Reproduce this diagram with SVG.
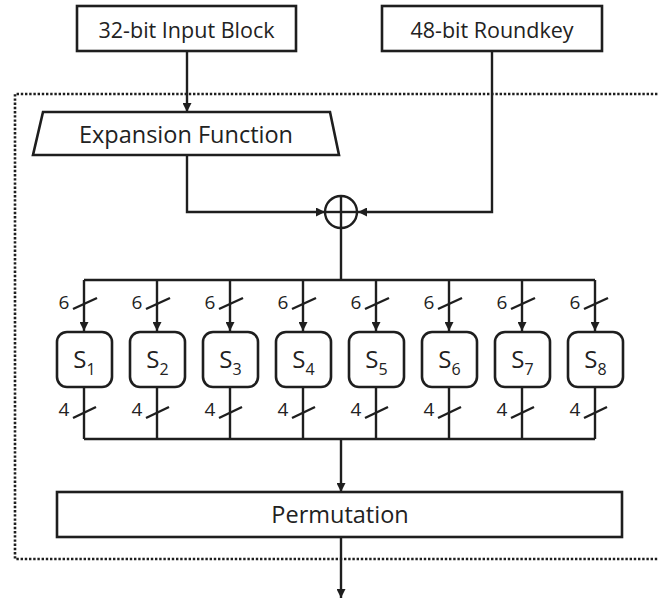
<svg xmlns="http://www.w3.org/2000/svg" width="659" height="601" viewBox="0 0 659 601">
  <style>
    .box { fill: #fff; stroke: #1e1e1e; stroke-width: 2.6; }
    .wire { fill: none; stroke: #1e1e1e; stroke-width: 2.4; }
    .arrow { fill: none; stroke: #1e1e1e; stroke-width: 2.4; marker-end: url(#head); }
    .frame { fill: none; stroke: #1e1e1e; stroke-width: 2.6; stroke-dasharray: 2.4 1.8; }
    .lbl { font-family: "Open Sans", "Noto Sans", sans-serif; fill: #222; text-anchor: middle; }
    .big { font-size: 21.5px; }
    .wide { font-size: 23.5px; }
    .bits { font-family: "Open Sans", "Noto Sans", sans-serif; font-size: 19px; fill: #222; text-anchor: middle; }
    .sbox { font-family: "Open Sans", "Noto Sans", sans-serif; font-size: 24px; fill: #222; text-anchor: middle; }
    .sub { font-size: 16px; }
  </style>
  <defs>
    <marker id="head" viewBox="0 0 10 10" refX="10" refY="5" markerWidth="9" markerHeight="9" markerUnits="userSpaceOnUse" orient="auto">
      <path d="M0,0 L10,5 L0,10 z" fill="#1e1e1e"/>
    </marker>
  </defs>

  <!-- round function boundary -->
  <path class="frame" d="M670,94 H15 V559 H670"/>

  <g id="connectors">
    <!-- input into expansion -->
    <line class="arrow" x1="187" y1="51" x2="187" y2="112"/>
    <!-- expansion output to XOR -->
    <polyline class="arrow" points="187,155 187,212 325,212"/>
    <!-- round key to XOR -->
    <polyline class="arrow" points="492,51 492,212 358,212"/>
    <!-- XOR output to bus -->
    <line class="wire" x1="341" y1="228" x2="341" y2="280"/>
    <line class="wire" x1="84" y1="280" x2="595" y2="280"/>
    <!-- bus into S-boxes -->
    <line class="arrow" x1="84" y1="280" x2="84" y2="331"/>
    <line class="arrow" x1="157" y1="280" x2="157" y2="331"/>
    <line class="arrow" x1="230" y1="280" x2="230" y2="331"/>
    <line class="arrow" x1="303" y1="280" x2="303" y2="331"/>
    <line class="arrow" x1="376" y1="280" x2="376" y2="331"/>
    <line class="arrow" x1="449" y1="280" x2="449" y2="331"/>
    <line class="arrow" x1="522" y1="280" x2="522" y2="331"/>
    <line class="arrow" x1="595" y1="280" x2="595" y2="331"/>
    <!-- S-box outputs -->
    <line class="wire" x1="84" y1="387" x2="84" y2="439"/>
    <line class="wire" x1="157" y1="387" x2="157" y2="439"/>
    <line class="wire" x1="230" y1="387" x2="230" y2="439"/>
    <line class="wire" x1="303" y1="387" x2="303" y2="439"/>
    <line class="wire" x1="376" y1="387" x2="376" y2="439"/>
    <line class="wire" x1="449" y1="387" x2="449" y2="439"/>
    <line class="wire" x1="522" y1="387" x2="522" y2="439"/>
    <line class="wire" x1="595" y1="387" x2="595" y2="439"/>
    <line class="wire" x1="84" y1="439" x2="595" y2="439"/>
    <!-- into permutation and out -->
    <line class="arrow" x1="341" y1="439" x2="341" y2="492"/>
    <line class="arrow" x1="341" y1="537" x2="341" y2="598"/>

    <!-- bus width marks -->
    <g class="wire">
      <line x1="73" y1="309" x2="97" y2="298"/>
      <line x1="146" y1="309" x2="170" y2="298"/>
      <line x1="219" y1="309" x2="243" y2="298"/>
      <line x1="292" y1="309" x2="316" y2="298"/>
      <line x1="365" y1="309" x2="389" y2="298"/>
      <line x1="438" y1="309" x2="462" y2="298"/>
      <line x1="511" y1="309" x2="535" y2="298"/>
      <line x1="584" y1="309" x2="608" y2="298"/>
      <line x1="73" y1="418" x2="96" y2="407"/>
      <line x1="146" y1="418" x2="169" y2="407"/>
      <line x1="219" y1="418" x2="242" y2="407"/>
      <line x1="292" y1="418" x2="315" y2="407"/>
      <line x1="365" y1="418" x2="388" y2="407"/>
      <line x1="438" y1="418" x2="461" y2="407"/>
      <line x1="511" y1="418" x2="534" y2="407"/>
      <line x1="584" y1="418" x2="607" y2="407"/>
    </g>
    <g class="bits">
      <text x="64" y="309">6</text>
      <text x="137" y="309">6</text>
      <text x="210" y="309">6</text>
      <text x="283" y="309">6</text>
      <text x="356" y="309">6</text>
      <text x="429" y="309">6</text>
      <text x="502" y="309">6</text>
      <text x="575" y="309">6</text>
      <text x="64" y="415.5">4</text>
      <text x="137" y="415.5">4</text>
      <text x="210" y="415.5">4</text>
      <text x="283" y="415.5">4</text>
      <text x="356" y="415.5">4</text>
      <text x="429" y="415.5">4</text>
      <text x="502" y="415.5">4</text>
      <text x="575" y="415.5">4</text>
    </g>
  </g>

  <g id="input-block">
    <rect class="box" x="77" y="6" width="219" height="45"/>
    <text class="lbl big" x="186.5" y="37.5">32-bit Input Block</text>
  </g>

  <g id="roundkey">
    <rect class="box" x="382" y="6" width="220" height="45"/>
    <text class="lbl big" x="492" y="37.5">48-bit Roundkey</text>
  </g>

  <g id="expansion">
    <polygon class="box" points="43,112 330,112 339,155 33,155"/>
    <text class="lbl wide" x="186" y="143">Expansion Function</text>
  </g>

  <g id="xor">
    <circle cx="341" cy="212" r="16" fill="#fff" stroke="#1e1e1e" stroke-width="2.4"/>
    <line class="wire" x1="325" y1="212" x2="357" y2="212"/>
    <line class="wire" x1="341" y1="196" x2="341" y2="228"/>
  </g>

  <g id="s1"><rect class="box" x="57" y="332" width="55" height="55" rx="10"/><text class="sbox" x="84.5" y="368">S<tspan class="sub" dy="7">1</tspan></text></g>
  <g id="s2"><rect class="box" x="130" y="332" width="55" height="55" rx="10"/><text class="sbox" x="157.5" y="368">S<tspan class="sub" dy="7">2</tspan></text></g>
  <g id="s3"><rect class="box" x="203" y="332" width="55" height="55" rx="10"/><text class="sbox" x="230.5" y="368">S<tspan class="sub" dy="7">3</tspan></text></g>
  <g id="s4"><rect class="box" x="276" y="332" width="55" height="55" rx="10"/><text class="sbox" x="303.5" y="368">S<tspan class="sub" dy="7">4</tspan></text></g>
  <g id="s5"><rect class="box" x="349" y="332" width="55" height="55" rx="10"/><text class="sbox" x="376.5" y="368">S<tspan class="sub" dy="7">5</tspan></text></g>
  <g id="s6"><rect class="box" x="422" y="332" width="55" height="55" rx="10"/><text class="sbox" x="449.5" y="368">S<tspan class="sub" dy="7">6</tspan></text></g>
  <g id="s7"><rect class="box" x="495" y="332" width="55" height="55" rx="10"/><text class="sbox" x="522.5" y="368">S<tspan class="sub" dy="7">7</tspan></text></g>
  <g id="s8"><rect class="box" x="568" y="332" width="55" height="55" rx="10"/><text class="sbox" x="595.5" y="368">S<tspan class="sub" dy="7">8</tspan></text></g>

  <g id="permutation">
    <rect class="box" x="57" y="492" width="565" height="45"/>
    <text class="lbl wide" x="340" y="523">Permutation</text>
  </g>
</svg>
